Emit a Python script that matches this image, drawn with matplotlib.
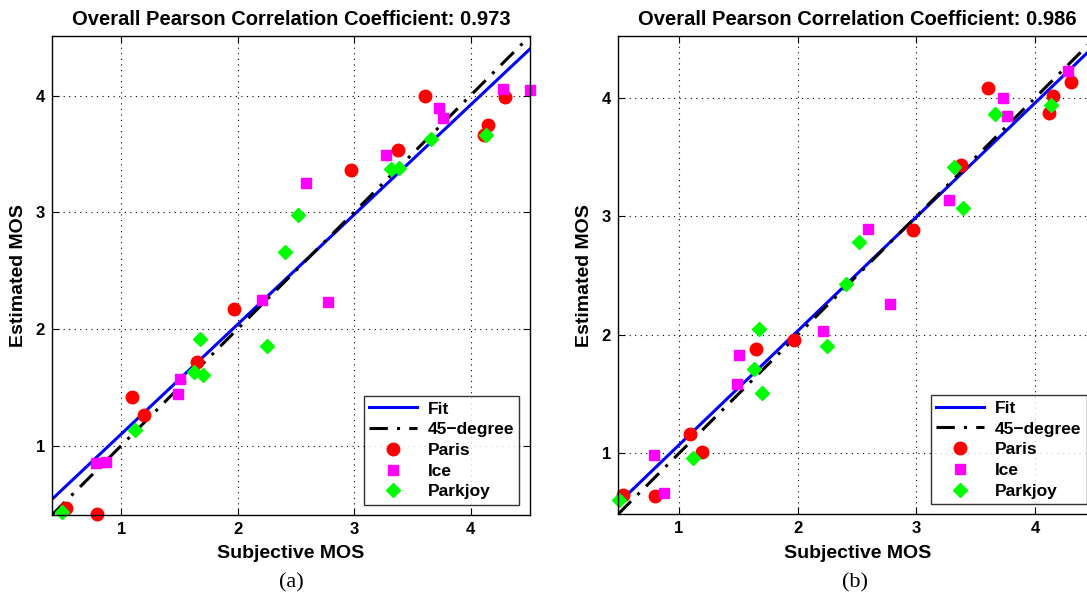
import numpy as np
import matplotlib
matplotlib.use('Agg')
import matplotlib.pyplot as plt

plt.rcParams['font.family'] = ['Liberation Sans', 'DejaVu Sans']
plt.rcParams['font.weight'] = 'bold'

# subjective MOS (same for both panels)
paris_x = [3.605, 4.30, 4.147, 4.115, 3.376, 2.97, 1.971, 1.651, 1.097, 1.194, 0.529, 0.797]
ice_x = [4.28, 4.51, 3.73, 3.765, 3.27, 2.59, 2.774, 2.213, 1.503, 1.486, 0.788, 0.874]
park_x = [4.136, 3.66, 3.32, 3.39, 2.52, 2.407, 1.674, 2.249, 1.629, 1.70, 1.12, 0.494]

# estimated MOS, panel (a)
paris_a = [4.0, 3.99, 3.75, 3.665, 3.534, 3.36, 2.169, 1.715, 1.415, 1.263, 0.464, 0.412]
ice_a = [4.054, 4.048, 3.89, 3.81, 3.49, 3.254, 2.231, 2.249, 1.569, 1.443, 0.849, 0.858]
park_a = [3.665, 3.63, 3.37, 3.375, 2.977, 2.66, 1.912, 1.857, 1.629, 1.606, 1.135, 0.429]

# estimated MOS, panel (b)
paris_b = [4.083, 4.128, 4.016, 3.87, 3.435, 2.887, 1.96, 1.881, 1.16, 1.013, 0.649, 0.643]
ice_b = [4.229, 4.30, 3.999, 3.842, 3.134, 2.892, 2.258, 2.033, 1.828, 1.586, 0.983, 0.663]
park_b = [3.934, 3.859, 3.414, 3.072, 2.786, 2.43, 2.05, 1.904, 1.71, 1.51, 0.958, 0.607]

fit_a = (0.94, 0.159)   # slope, intercept
fit_b = (0.962, 0.109)
pcc = ['0.973', '0.986']
lims = [(0.406, 4.51), (0.487, 4.52)]
captions = ['(a)', '(b)']

fig = plt.figure(figsize=(10.87, 6.03), dpi=100)
axes = [fig.add_axes([0.0478, 0.1459, 0.4397, 0.7944]),
        fig.add_axes([0.5685, 0.1471, 0.4407, 0.7932])]

panels = [(paris_a, ice_a, park_a, fit_a), (paris_b, ice_b, park_b, fit_b)]

for i, ax in enumerate(axes):
    pa, ic, pk, fit = panels[i]
    lo, hi = lims[i]
    xx = np.array([lo, hi])
    ax.plot(xx, fit[0] * xx + fit[1], color='#0000ff', lw=2.2, label='Fit')
    ax.plot(xx, xx, color='k', lw=2.2, ls=(0, (6, 3, 1, 3)), label='45\u2212degree')
    ax.plot(paris_x, pa, 'o', color='#ff0000', ms=9, mec='#ff0000', label='Paris', clip_on=False)
    ax.plot(ice_x, ic, 's', color='#ff00ff', ms=7, mec='#ff00ff', label='Ice', clip_on=False)
    ax.plot(park_x, pk, 'D', color='#00ff00', ms=7, mec='#00ff00', label='Parkjoy', clip_on=False)
    ax.set_xlim(lo, hi)
    ax.set_ylim(lo, hi)
    ax.set_xticks([1, 2, 3, 4])
    ax.set_yticks([1, 2, 3, 4])
    ax.grid(True, ls=(0, (1, 4)), color='k', lw=0.8)
    ax.tick_params(direction='in', top=True, right=True, labelsize=12, length=5, pad=5)
    for s in ax.spines.values():
        s.set_linewidth(1.0)
    ax.set_xlabel('Subjective MOS', fontsize=14, fontweight='bold', labelpad=6)
    ax.set_ylabel('Estimated MOS', fontsize=14, fontweight='bold', labelpad=6)
    ax.set_title('Overall Pearson Correlation Coefficient: ' + pcc[i], fontsize=14.5,
                 fontweight='bold', pad=8)
    leg = ax.legend(loc='lower right', fontsize=12.5, frameon=True, fancybox=False,
                    edgecolor='k', borderaxespad=0.6, handlelength=2.8, labelspacing=0.32,
                    borderpad=0.3, handletextpad=0.6)
    leg.get_frame().set_linewidth(1.0)
    bb = ax.get_position()
    fig.text(bb.x0 + bb.width / 2 if i == 0 else 0.787, 0.025, captions[i],
             family='Liberation Serif', fontweight='normal', fontsize=16, ha='center')

fig.savefig('out.png', dpi=100)
